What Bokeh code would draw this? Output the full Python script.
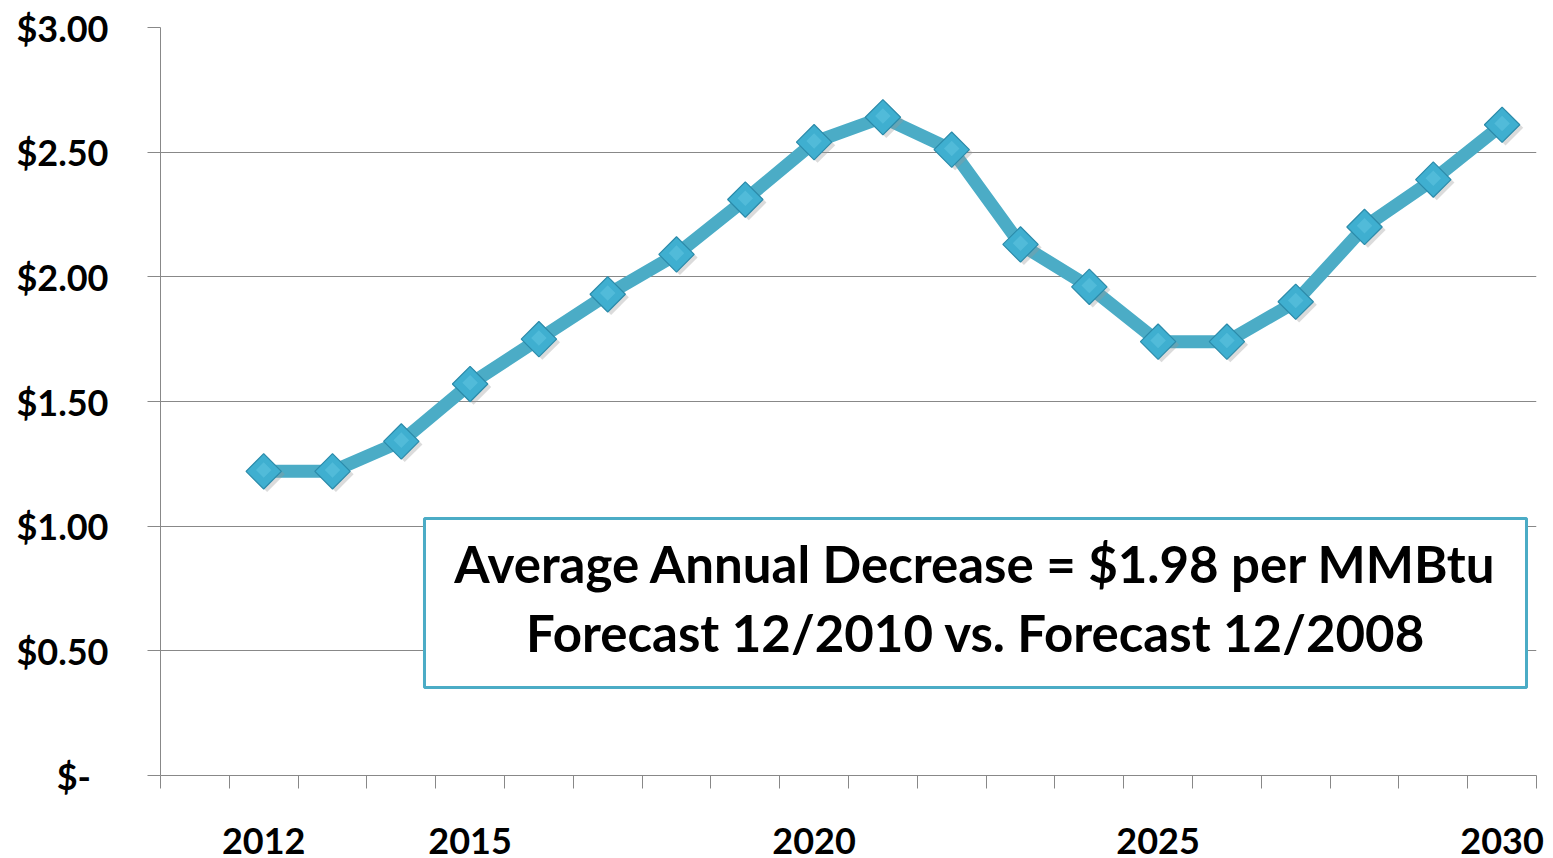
from bokeh.plotting import figure
from bokeh.models import Range1d, FixedTicker, CustomJSTickFormatter, BoxAnnotation, Label
from bokeh.embed import file_html
from bokeh.resources import INLINE

years = list(range(2012, 2031))
prices = [1.22, 1.22, 1.34, 1.57, 1.75, 1.93, 2.09, 2.31, 2.54, 2.64,
          2.51, 2.13, 1.96, 1.74, 1.74, 1.90, 2.20, 2.39, 2.61]
x_tick_labels = [2012, 2015, 2020, 2025, 2030]
y_ticks = [0, 0.5, 1.0, 1.5, 2.0, 2.5, 3.0]
box_lines = ["Average Annual Decrease = $1.98 per MMBtu",
             "Forecast 12/2010 vs. Forecast 12/2008"]

FONT = "Lato"
GRAY = "#888888"
TEAL = "#4BACC6"

p = figure(width=1553, height=858, output_backend="svg", toolbar_location=None,
           x_range=Range1d(2010.5, 2030.5), y_range=Range1d(0, 3),
           min_border_left=160, min_border_right=17, min_border_top=27,
           min_border_bottom=83)
p.outline_line_color = None
p.background_fill_color = "white"

# x axis
p.xaxis.ticker = FixedTicker(ticks=x_tick_labels,
                             minor_ticks=[y - 0.5 for y in range(2011, 2032)])
p.xaxis.major_tick_out = 0
p.xaxis.major_tick_in = 0
p.xaxis.minor_tick_out = 13
p.xaxis.minor_tick_in = 0
p.xaxis.minor_tick_line_color = GRAY
p.xaxis.axis_line_color = GRAY
p.xaxis.major_label_standoff = 39
p.xaxis.major_label_text_font = FONT
p.xaxis.major_label_text_font_style = "bold"
p.xaxis.major_label_text_font_size = "36px"
p.xaxis.major_label_text_color = "black"
p.xgrid.grid_line_color = None

# y axis
p.yaxis.ticker = FixedTicker(ticks=y_ticks)
p.yaxis.formatter = CustomJSTickFormatter(
    code="return tick == 0 ? '$-\u00a0\u00a0' : '$' + tick.toFixed(2);")
p.yaxis.major_tick_out = 13
p.yaxis.major_tick_in = 0
p.yaxis.minor_tick_line_color = None
p.yaxis.major_tick_line_color = GRAY
p.yaxis.axis_line_color = GRAY
p.yaxis.major_label_standoff = 39
p.yaxis.major_label_text_font = FONT
p.yaxis.major_label_text_font_style = "bold"
p.yaxis.major_label_text_font_size = "36px"
p.yaxis.major_label_text_color = "black"
p.ygrid.grid_line_color = GRAY
p.ygrid.grid_line_width = 1

# series
p.line(years, prices, line_color=TEAL, line_width=13, line_join="round")
p.scatter([y + 0.05 for y in years], [v - 0.012 for v in prices], marker="square",
          size=25, angle=0.785398, fill_color="#999999", fill_alpha=0.35, line_color=None)
p.scatter(years, prices, marker="square", size=25, angle=0.785398,
          fill_color="#3FAFD0", line_color="#2B8BAA", line_width=1.2)
p.scatter(years, [v + 0.005 for v in prices], marker="square", size=11, angle=0.785398,
          fill_color="#5DC3E0", fill_alpha=0.6, line_color=None)

# annotation box
box = BoxAnnotation(left=2014.337, right=2030.355, bottom=0.353, top=1.031,
                    fill_color="white", fill_alpha=1.0,
                    line_color=TEAL, line_width=3, line_alpha=1.0)
p.add_layout(box)
for txt, yy in zip(box_lines, [0.85, 0.575]):
    p.add_layout(Label(x=2022.35, y=yy, text=txt, text_align="center",
                       text_baseline="middle", text_font=FONT,
                       text_font_style="bold", text_font_size="51px",
                       text_color="black"))

open("out.html", "w").write(file_html(p, INLINE))
